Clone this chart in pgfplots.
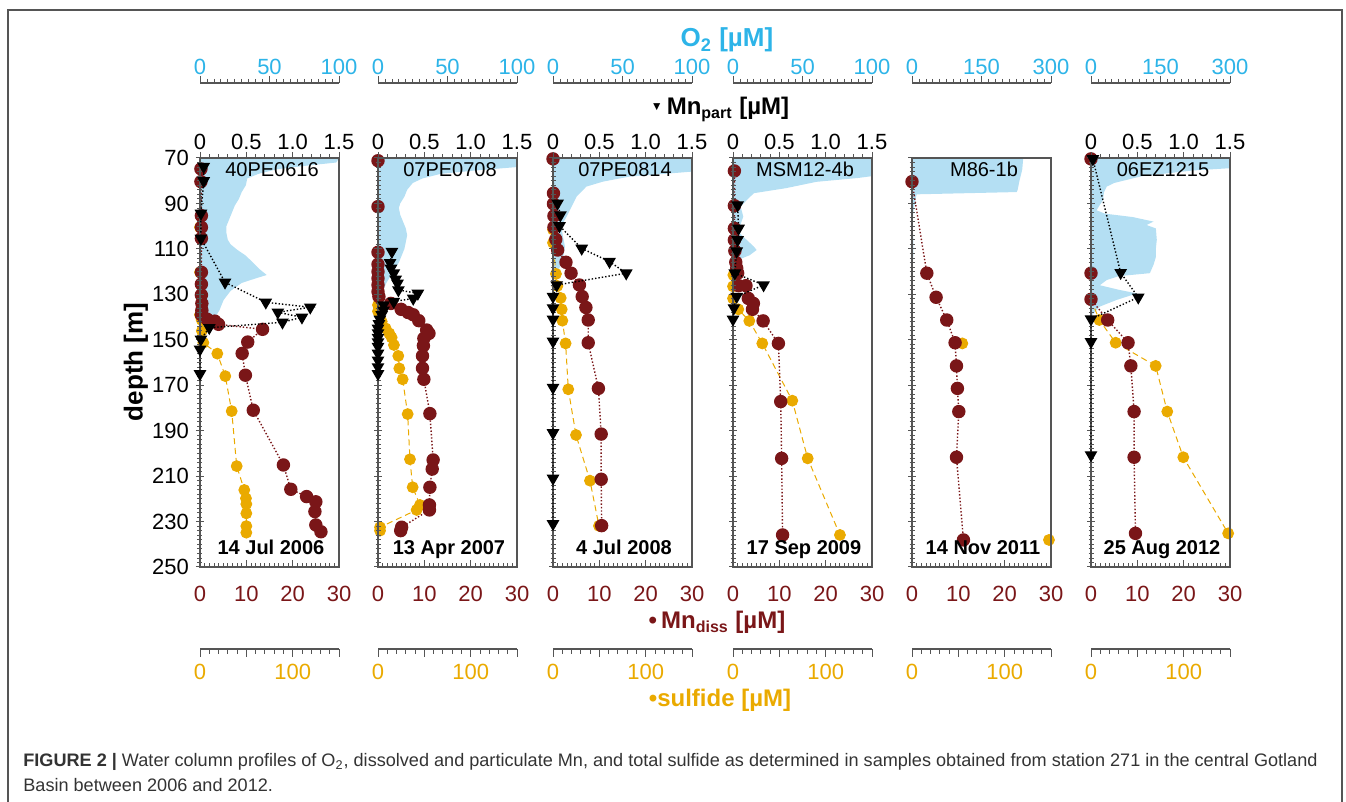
\documentclass[border=0pt]{standalone}
\usepackage{fontspec}
\setmainfont{Liberation Sans}
\usepackage{pgfplots}
\pgfplotsset{compat=1.18}
\definecolor{o2blue}{RGB}{180,223,243}
\definecolor{o2text}{RGB}{45,180,232}
\definecolor{mnred}{RGB}{122,22,24}
\definecolor{sulf}{RGB}{234,170,0}
\definecolor{axisgray}{RGB}{85,85,85}
\definecolor{capgray}{RGB}{51,51,51}
\pgfplotsset{
  base/.style={scale only axis, width=69.5pt, clip=false, y dir=reverse, xmin=0,
     axis line style={draw=axisgray, line width=0.6pt, -},
     major tick style={draw=axisgray, line width=0.5pt},
     minor tick style={draw=axisgray, line width=0.4pt},
     tick label style={font=\fontsize{11}{12}\selectfont},
     /pgf/number format/assume math mode=true},
  o2ax/.style={base, anchor=north west, height=242pt, ymin=37, ymax=250,
     axis x line*=top, axis y line=none, tick align=outside,
     major tick length=3.5pt, minor tick length=2pt, minor x tick num=9,
     xticklabel shift=-3pt,
     xticklabel style={text=o2text}, ytick=\empty},
  sulfax/.style={base, anchor=north west, height=245.5pt, ymin=70, ymax=286.09, xmax=150,
     axis x line*=bottom, axis y line=none, tick align=outside, xtick={0,50,100,150},
     xticklabels={0,,100,}, minor x tick num=4, major tick length=4pt, minor tick length=2.5pt,
     xticklabel style={text=sulf}, ytick=\empty},
  mainax/.style={base, anchor=north west, height=204.5pt, ymin=70, ymax=250, xmax=30,
     xtick={0,10,20,30}, xticklabels={0,10,20,30}, minor x tick num=9, xtick pos=left,
     tick align=inside, ytick=\empty, major tick length=3.5pt, minor tick length=2pt,
     xticklabel shift=6pt, xticklabel style={text=mnred}},
  depthax/.style={base, anchor=north west, height=204.5pt, ymin=70, ymax=250, xmax=30,
     axis y line*=left, axis x line=none, tick align=center, ytick={70,90,...,250},
     minor y tick num=9, major tick length=4pt, minor tick length=2.5pt, xtick=\empty},
  mnpax/.style={base, anchor=north west, height=204.5pt, ymin=70, ymax=250, xmax=1.5,
     axis x line*=top, axis y line=none, tick align=outside, xtick={0,0.5,1,1.5},
     xticklabels={0,0.5,1.0,1.5}, minor x tick num=4, major tick length=3pt,
     xticklabel shift=-2.5pt, minor tick length=1.8pt, ytick=\empty},
  pox/.style={fill=o2blue, draw=none},
  pdiss/.style={mnred, densely dotted, line width=0.7pt, mark=*, mark size=3pt,
     mark options={solid, fill=mnred, draw=mnred}},
  psulf/.style={sulf, densely dashed, line width=0.5pt, mark=*, mark size=2.7pt,
     mark options={solid, fill=sulf, draw=sulf}},
  ppart/.style={black, densely dotted, line width=0.7pt, mark=triangle*, mark size=3pt,
     mark options={solid, rotate=180, fill=black}},
}
\begin{document}
\begin{tikzpicture}
\path[use as bounding box] (0,0) rectangle (673pt,401pt);
\draw[axisgray, line width=0.8pt] (4pt,0) -- (4pt,396pt) -- (671pt,396pt) -- (671pt,0);

% ================= Panel 1 =================
\begin{axis}[o2ax, at={(100pt,359.5pt)}, xmax=100, xtick={0,50,100}, xticklabels={0,50,100}]
\addplot[pox] coordinates {(0,70) (100,70) (98,72) (75,73.5) (55,75) (42,77) (34,79) (33,82) (30,85) (28,88) (25,91) (23,94) (21,97) (19,100) (19,103) (20,106) (22,108) (27,110.5) (33,113) (38,116) (43,119) (48,121.5) (40,123) (30,125) (22,128.5) (17,132.5) (14,137) (11,140) (5,142.7) (0,145)};
\end{axis}
\begin{axis}[sulfax, at={(100pt,322pt)}]
\addplot[psulf] coordinates {(0,100.5) (0,120.3) (0,139) (1.8,141.3) (2,146.1) (3.6,151.3) (18.7,156.1) (27.3,166) (34.2,181.4) (39.6,205.6) (47.8,216.1) (49.6,219.8) (50,222.3) (50,226.4) (50,232) (50,234.9)};
\end{axis}
\begin{axis}[mainax, at={(100pt,322pt)}]
\addplot[pdiss] coordinates {(0.2,74.8) (0.2,80.4) (0.3,95.4) (0.3,100.5) (0.3,105.4) (0.3,120.3) (0.3,125.5) (0.3,130.3) (0.4,134) (0.4,137) (0.3,139) (1.5,140.9) (3.2,141.8) (4.0,143.2) (13.5,145.4) (10.3,151) (9.1,156) (9.8,165.6) (11.5,181) (18,205.1) (19.6,215.8) (23,219) (25,221.3) (24.8,225.6) (25,231.5) (26.1,234.5)};
\end{axis}
\begin{axis}[depthax, at={(100pt,322pt)}, yticklabels={70,90,110,130,150,170,190,210,230,250}]
\end{axis}
\begin{axis}[mnpax, at={(100pt,322pt)}]
\addplot[ppart] coordinates {(0.04,73.8) (0.04,80.1) (0.01,94.4) (0.01,105.4) (0.27,124.7) (0.71,133.5) (1.19,135.7) (0.84,137.9) (1.10,140.1) (0.89,142.3) (0.10,144.7) (0.01,149.8) (0,154.2) (0,165)};
\end{axis}

% ================= Panel 2 =================
\begin{axis}[o2ax, at={(189pt,359.5pt)}, xmax=100, xtick={0,50,100}, xticklabels={0,50,100}]
\addplot[pox] coordinates {(0,70) (100,70) (100,74) (70,75.5) (45,77) (32,79) (25,81) (21,84) (19,87) (16,90) (15,92) (16,95) (18,98) (20,101) (21,104) (20,107) (19,110) (17,113) (15,116) (12,119) (9,122) (6,125) (4,128) (2,131) (0,133)};
\end{axis}
\begin{axis}[sulfax, at={(189pt,322pt)}]
\addplot[psulf] coordinates {(0,134.7) (0,137.5) (4,142) (8.3,145) (12.2,147.2) (14.7,149) (17.2,152.3) (21.9,157.1) (23,162.6) (26.6,167.4) (32,182.7) (34.5,202.6) (37.4,214.9) (45.3,222.7) (41.7,224.9) (2.2,232.5) (2.2,234)};
\end{axis}
\begin{axis}[mainax, at={(189pt,322pt)}]
\addplot[pdiss] coordinates {(0,71.2) (0,91.4) (0,111.5) (0,116.8) (0,120) (0,123) (0,125.9) (0,128.8) (0.2,131) (2.8,134) (5,136.6) (6.5,138) (7.6,139) (8.8,141.6) (10.5,145.7) (11,147.2) (9.9,149.4) (9.8,152.6) (9.6,157.1) (9.6,162.5) (9.9,167.4) (11.2,182.5) (11.9,202.9) (11.7,206.9) (11.2,214.9) (11.1,222.7) (11.1,224.9) (5.1,232.5) (4.9,234)};
\end{axis}
\begin{axis}[depthax, at={(189pt,322pt)}, yticklabels={,,,,,,,,,}]
\end{axis}
\begin{axis}[mnpax, at={(189pt,322pt)}]
\addplot[ppart] coordinates {(0.15,111.2) (0.13,116.1) (0.14,118.6) (0.17,120.7) (0.19,123.4) (0.21,125.2) (0.22,128.1) (0.43,129.6) (0.38,131.8) (0.17,133.2) (0.06,134.7) (0.06,137) (0.04,139) (0.02,141) (0.01,143) (0,145) (0,147) (0,149) (0,151) (0,153) (0,156) (0,159) (0,162) (0,165)};
\end{axis}

% ================= Panel 3 =================
\begin{axis}[o2ax, at={(276.5pt,359.5pt)}, xmax=100, xtick={0,50,100}, xticklabels={0,50,100}]
\addplot[pox] coordinates {(0,70) (100,70) (100,76) (80,77) (55,78.2) (36,80.4) (24,82.6) (17,87) (13.4,91.4) (9.8,95.8) (6,100) (7,104) (8.6,109) (7,115) (3,120.7) (0,123)};
\end{axis}
\begin{axis}[sulfax, at={(276.5pt,322pt)}]
\addplot[psulf] coordinates {(0,101.5) (0,107.3) (3.2,121) (4.7,126.3) (8.3,131.6) (9.4,136.6) (10.1,141.6) (13.6,151.6) (16.5,171.8) (24.8,191.9) (39.9,212) (49.6,231.9)};
\end{axis}
\begin{axis}[mainax, at={(276.5pt,322pt)}]
\addplot[pdiss] coordinates {(0,70.4) (0.1,85.5) (0.1,90.2) (0.2,95.5) (0.2,100.5) (0.6,105.8) (1,110.5) (2.8,115.9) (3.9,120.7) (5.7,125.9) (6.3,131) (7.1,135.8) (7.6,141.3) (7.6,151.3) (9.8,171.4) (10.4,191.5) (10.4,211.4) (10.5,231.8)};
\end{axis}
\begin{axis}[depthax, at={(276.5pt,322pt)}, yticklabels={,,,,,,,,,}]
\end{axis}
\begin{axis}[mnpax, at={(276.5pt,322pt)}]
\addplot[ppart] coordinates {(0.05,89.9) (0.08,95.1) (0.07,99.9) (0.31,109.8) (0.61,115.6) (0.79,120.7) (0.04,125.9) (0,131) (0,136) (0,141) (0,150.7) (0,171) (0,191) (0,211) (0,231)};
\end{axis}

% ================= Panel 4 =================
\begin{axis}[o2ax, at={(366.5pt,359.5pt)}, xmax=100, xtick={0,50,100}, xticklabels={0,50,100}]
\addplot[pox] coordinates {(0,70) (100,70) (100,78) (90,78.8) (60,80.5) (38,83.3) (15,85.5) (10,88.5) (5.5,91.4) (7.4,95.8) (5,100) (3,102) (8,105) (15,109) (17,110.5) (12,112.8) (5,114.5) (2,118) (0,120)};
\end{axis}
\begin{axis}[sulfax, at={(366.5pt,322pt)}]
\addplot[psulf] coordinates {(0.4,121.5) (0,126.5) (0,131.8) (5.7,136.6) (17.6,141.7) (31.6,151.6) (64,176.8) (80.6,202.2) (115.4,235.9)};
\end{axis}
\begin{axis}[mainax, at={(366.5pt,322pt)}]
\addplot[pdiss] coordinates {(0.3,75.7) (0.3,91) (0.3,101) (0.3,106.1) (0.4,110.9) (0.6,115.9) (0.8,118.5) (1,120.7) (1.2,126.2) (2.8,126.2) (3.3,131.8) (4.4,134) (4.2,136.6) (6.5,141.7) (9.8,151.6) (10.3,177.2) (10.5,202.2) (10.7,235.9)};
\end{axis}
\begin{axis}[depthax, at={(366.5pt,322pt)}, yticklabels={,,,,,,,,,}]
\end{axis}
\begin{axis}[mnpax, at={(366.5pt,322pt)}]
\addplot[ppart] coordinates {(0.05,90.7) (0.06,101) (0.05,106) (0.04,111) (0.02,120.7) (0.33,125.9) (0.04,131) (0.01,136) (0,141)};
\end{axis}

% ================= Panel 5 =================
\begin{axis}[o2ax, at={(456pt,359.5pt)}, xmax=300, xtick={0,150,300}, xticklabels={0,150,300}]
\addplot[pox] coordinates {(0,70) (240,70) (238,75) (232,80) (228,84) (226,85) (10,86) (8,88) (4,92) (2,96) (1,100) (3,106) (3,112) (2,116) (0,118)};
\end{axis}
\begin{axis}[sulfax, at={(456pt,322pt)}]
\addplot[psulf, only marks] coordinates {(54.3,151.6) (147.8,238.1)};
\end{axis}
\begin{axis}[mainax, at={(456pt,322pt)}]
\addplot[pdiss] coordinates {(0,80.4) (3.2,120.7) (5.2,131.3) (7.5,141.3) (9.3,151.3) (9.6,161.5) (9.8,171.4) (10.1,181.6) (9.6,201.7) (11.1,238.1)};
\end{axis}
\begin{axis}[depthax, at={(456pt,322pt)}, yticklabels={,,,,,,,,,}]
\end{axis}

% ================= Panel 6 =================
\begin{axis}[o2ax, at={(545.5pt,359.5pt)}, xmax=300, xtick={0,150,300}, xticklabels={0,150,300}]
\addplot[pox] coordinates {(0,70) (300,70) (300,74.5) (220,75.5) (110,78) (50,81) (34,82.6) (28,85) (26,88.5) (18,91) (12,93) (30,94.5) (90,96) (135,98) (120,99.5) (140,101) (142,106) (140,110) (140,113.6) (135,117) (127,120.7) (60,122) (34,123.7) (19,126) (60,128) (99,129.6) (55,132.5) (19,135.4) (6,138.3) (0,140)};
\end{axis}
\begin{axis}[sulfax, at={(545.5pt,322pt)}]
\addplot[psulf] coordinates {(0,132.2) (9,141.3) (26.6,151.3) (69.8,161.5) (82.3,181.6) (99.6,201.7) (148,235.2)};
\end{axis}
\begin{axis}[mainax, at={(545.5pt,322pt)}]
\addplot[pdiss] coordinates {(0,70.4) (0,120.7) (0,132.2) (3.6,141.3) (8.0,151.3) (8.6,161.5) (9.3,181.6) (9.3,201.7) (9.6,235.2)};
\end{axis}
\begin{axis}[depthax, at={(545.5pt,322pt)}, yticklabels={,,,,,,,,,}]
\end{axis}
\begin{axis}[mnpax, at={(545.5pt,322pt)}]
\addplot[ppart] coordinates {(0.02,70.4) (0.32,120.5) (0.51,131.3) (0,140.9) (0,150.9) (0,200.7)};
\end{axis}

% ================= Panel titles and dates =================
\begin{scope}[every node/.style={anchor=base, font=\fontsize{10}{12}\selectfont}]
\node at (136pt,312.5pt) {40PE0616};
\node at (225pt,312.5pt) {07PE0708};
\node at (312.5pt,312.5pt) {07PE0814};
\node at (402.5pt,312.5pt) {MSM12-4b};
\node at (492pt,312.5pt) {M86-1b};
\node at (581.5pt,312.5pt) {06EZ1215};
\end{scope}
\begin{scope}[every node/.style={anchor=base, font=\fontsize{10}{12}\selectfont\bfseries}]
\node at (135.5pt,123.5pt) {14 Jul 2006};
\node at (224.5pt,123.5pt) {13 Apr 2007};
\node at (312pt,123.5pt) {4 Jul 2008};
\node at (402pt,123.5pt) {17 Sep 2009};
\node at (491.5pt,123.5pt) {14 Nov 2011};
\node at (581pt,123.5pt) {25 Aug 2012};
\end{scope}

% ================= Axis titles =================
\node[rotate=90, font=\fontsize{13}{15}\selectfont\bfseries] at (68pt,220pt) {depth [m]};
\node[font=\fontsize{13}{15}\selectfont\bfseries, text=o2text] at (363.5pt,381pt) {O\textsubscript{2} [µM]};
\node[anchor=base, font=\fontsize{12}{14}\selectfont\bfseries] at (360pt,343.5pt) {\raisebox{2pt}{\fontsize{6}{6}\selectfont ▼}\,Mn\textsubscript{part} [µM]};
\node[anchor=base, font=\fontsize{12}{14}\selectfont\bfseries, text=mnred] at (358.5pt,86.5pt) {•\,Mn\textsubscript{diss} [µM]};
\node[anchor=base, font=\fontsize{12}{14}\selectfont\bfseries, text=sulf] at (360pt,47.5pt) {•sulfide [µM]};

% ================= Caption =================
\node[anchor=base west, font=\fontsize{9.05}{10}\selectfont, text=capgray, inner sep=0pt] at (11.5pt,17.5pt) {\textbf{FIGURE 2 |} Water column profiles of O\textsubscript{2}, dissolved and particulate Mn, and total sulfide as determined in samples obtained from station 271 in the central Gotland};
\node[anchor=base west, font=\fontsize{9.05}{10}\selectfont, text=capgray, inner sep=0pt] at (11.5pt,5pt) {Basin between 2006 and 2012.};
\end{tikzpicture}
\end{document}
